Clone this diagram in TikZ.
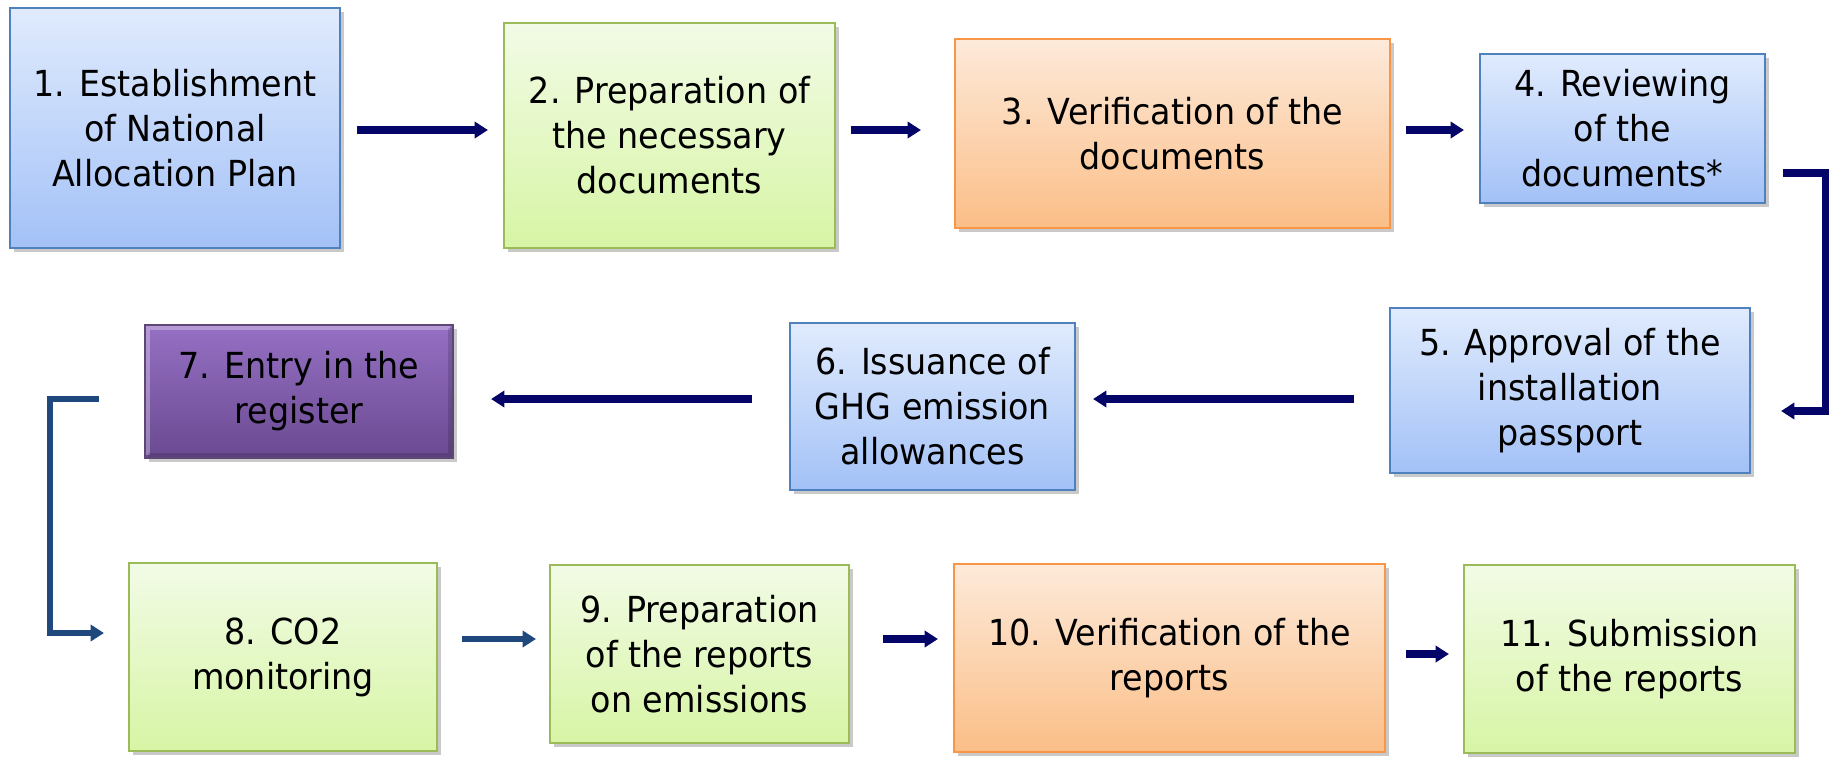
\documentclass[tikz,border=0pt]{standalone}
\usepackage{fontspec}
\setmainfont{DejaVu Sans}[FakeStretch=0.93]
\usetikzlibrary{arrows.meta,shadows,calc}
\definecolor{navyarr}{RGB}{5,5,105}
\definecolor{steelarr}{RGB}{31,73,125}
\definecolor{bluetop}{RGB}{224,235,253}
\definecolor{bluebot}{RGB}{163,193,247}
\definecolor{blueline}{RGB}{79,129,189}
\definecolor{greentop}{RGB}{242,251,230}
\definecolor{greenbot}{RGB}{215,245,165}
\definecolor{greenline}{RGB}{155,187,89}
\definecolor{orangetop}{RGB}{253,234,218}
\definecolor{orangebot}{RGB}{251,190,135}
\definecolor{orangeline}{RGB}{247,150,70}
\definecolor{purpletop}{RGB}{150,112,196}
\definecolor{purplebot}{RGB}{106,74,145}
\definecolor{purpleline}{RGB}{92,71,118}
\tikzset{
  box/.style={rectangle, line width=0.6pt, align=center, inner sep=2pt,
    font=\fontsize{10.2}{12.8}\selectfont,
    drop shadow={shadow xshift=1.2pt,shadow yshift=-1.2pt,opacity=0.3,fill=black!70}},
  blubox/.style={box, draw=blueline, top color=bluetop, bottom color=bluebot},
  grnbox/.style={box, draw=greenline, top color=greentop, bottom color=greenbot},
  orgbox/.style={box, draw=orangeline, top color=orangetop, bottom color=orangebot},
  purbox/.style={box, draw=purpleline, top color=purpletop, bottom color=purplebot},
  arr/.style={draw=navyarr, line width=2pt, -{Triangle[length=3.8pt,width=4.6pt]}},
  arrb/.style={arr, draw=steelarr, line width=1.9pt}
}
\begin{document}
\begin{tikzpicture}[x=0.1mm,y=-0.1mm]
  \useasboundingbox (0,0) rectangle (1831,758);
  % first row
  \node[blubox, minimum width=33mm, minimum height=24mm] (n1) at (175,128)
    {1. Establishment\\of National\\Allocation Plan};
  \node[grnbox, minimum width=33.1mm, minimum height=22.5mm] (n2) at (669.5,135.5)
    {2. Preparation of\\the necessary\\documents};
  \node[orgbox, minimum width=43.5mm, minimum height=18.9mm] (n3) at (1172.5,133.5)
    {3. Verification of the\\documents};
  \node[blubox, minimum width=28.5mm, minimum height=14.9mm] (n4) at (1622.5,128.5)
    {4. Reviewing\\of the\\documents*};
  % second row
  \node[blubox, minimum width=36mm, minimum height=16.5mm] (n5) at (1570,390.5)
    {5. Approval of the\\installation\\passport};
  \node[blubox, minimum width=28.5mm, minimum height=16.7mm] (n6) at (932.5,406.5)
    {6. Issuance of\\GHG emission\\allowances};
  \node[purbox, minimum width=30.8mm, minimum height=13.3mm] (n7) at (299,391.5)
    {7. Entry in the\\register};
  % bevel on the purple box
  \draw[white, opacity=0.3, line width=1.2pt]
    ([shift={(4,-4)}]n7.south west) -- ([shift={(4,4)}]n7.north west) -- ([shift={(-4,4)}]n7.north east);
  \draw[black, opacity=0.15, line width=1.2pt]
    ([shift={(4,-4)}]n7.south west) -- ([shift={(-4,-4)}]n7.south east) -- ([shift={(-4,4)}]n7.north east);
  % third row
  \node[grnbox, minimum width=30.8mm, minimum height=18.8mm] (n8) at (283,657)
    {8. CO2\\monitoring};
  \node[grnbox, minimum width=29.9mm, minimum height=17.8mm] (n9) at (699.5,654)
    {9. Preparation\\of the reports\\on emissions};
  \node[orgbox, minimum width=43.1mm, minimum height=18.8mm] (n10) at (1169.5,658)
    {10. Verification of the\\reports};
  \node[grnbox, minimum width=33.1mm, minimum height=18.8mm] (n11) at (1629.5,659)
    {11. Submission\\of the reports};
  % arrows
  \draw[arr, shorten <=1.6mm, shorten >=1.5mm] (n1.east |- 0,130) -- (n2.west |- 0,130);
  \draw[arr, shorten <=1.5mm, shorten >=3.3mm] (n2.east |- 0,130) -- (n3.west |- 0,130);
  \draw[arr, shorten <=1.5mm, shorten >=1.5mm] (n3.east |- 0,130) -- (n4.west |- 0,130);
  \draw[arr] ($(n4.east |- 0,173)+(17,0)$) -| (1825,411) -- ($(n5.east |- 0,411)+(30,0)$);
  \draw[arr, shorten <=3.5mm, shorten >=1.7mm] (n5.west |- 0,399) -- (n6.east |- 0,399);
  \draw[arr, shorten <=3.7mm, shorten >=3.7mm] (n6.west |- 0,399) -- (n7.east |- 0,399);
  \draw[arrb] ($(n7.west |- 0,399)+(-45,0)$) -| (50,633) -- ($(n8.west |- 0,633)+(-24,0)$);
  \draw[arrb, shorten <=2.4mm, shorten >=1.3mm] (n8.east |- 0,639) -- (n9.west |- 0,639);
  \draw[arr, shorten <=3.3mm, shorten >=1.5mm] (n9.east |- 0,639) -- (n10.west |- 0,639);
  \draw[arr, shorten <=2mm, shorten >=1.4mm] (n10.east |- 0,654) -- (n11.west |- 0,654);
\end{tikzpicture}
\end{document}
